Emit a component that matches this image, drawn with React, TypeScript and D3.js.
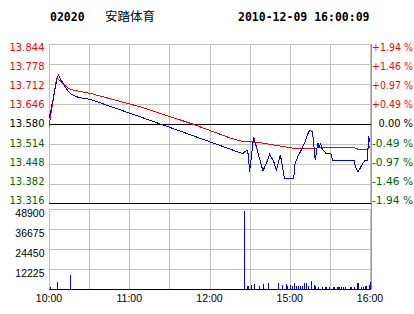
import React from "react";
import * as d3 from "d3";

const priceTicks = [13.844, 13.778, 13.712, 13.646, 13.58, 13.514, 13.448, 13.382, 13.316];
const pctTicks = ["+1.94", "+1.46", "+0.97", "+0.49", "0.00", "-0.49", "-0.97", "-1.46", "-1.94"];
const volTicks = [48900, 36675, 24450, 12225];
const timeTicks = ["10:00", "11:00", "12:00", "15:00", "16:00"];
const gridTimes = ["10:00", "10:30", "11:00", "11:30", "12:00", "12:30", "15:00", "15:30", "16:00"];

const priceTimes = [
  "10:00", "10:01", "10:02", "10:03", "10:04", "10:05", "10:06", "10:07", "10:08", "10:09",
  "10:10", "10:11", "10:12", "10:13", "10:14", "10:15", "10:17", "10:20", "10:22", "10:31",
  "11:08", "11:46", "12:23", "12:25", "12:28", "12:29", "14:30", "14:33", "14:34", "14:37",
  "14:40", "14:43", "14:45", "14:48", "14:50", "14:53", "14:56", "15:03", "15:04", "15:06",
  "15:08", "15:11", "15:13", "15:15", "15:17", "15:18", "15:19", "15:20", "15:21", "15:22",
  "15:23", "15:24", "15:27", "15:31", "15:32", "15:48", "15:49", "15:51", "15:54", "15:56",
  "15:58", "15:59", "16:00",
];
const priceValues = [
  13.600, 13.615, 13.640, 13.660, 13.685, 13.705, 13.728, 13.742, 13.735, 13.725,
  13.718, 13.710, 13.703, 13.697, 13.690, 13.685, 13.677, 13.671, 13.668, 13.661,
  13.604, 13.544, 13.485, 13.483, 13.494, 13.480, 13.422, 13.538, 13.522, 13.472,
  13.425, 13.456, 13.480, 13.456, 13.428, 13.478, 13.401, 13.401, 13.450, 13.472,
  13.489, 13.516, 13.543, 13.560, 13.554, 13.511, 13.461, 13.489, 13.518, 13.500,
  13.518, 13.500, 13.483, 13.481, 13.461, 13.461, 13.439, 13.421, 13.445, 13.459,
  13.459, 13.540, 13.520,
];

const avgTimes = [
  "10:00", "10:01", "10:02", "10:03", "10:04", "10:05", "10:06", "10:07", "10:09", "10:11",
  "10:13", "10:16", "10:31", "11:08", "11:46", "12:16", "12:25", "14:35", "14:41", "14:53",
  "15:03", "15:48", "15:51", "15:58", "16:00",
];
const avgValues = [
  13.571, 13.600, 13.630, 13.655, 13.685, 13.715, 13.731, 13.728, 13.720, 13.712,
  13.703, 13.694, 13.681, 13.637, 13.582, 13.533, 13.522, 13.520, 13.516, 13.507,
  13.500, 13.502, 13.497, 13.497, 13.505,
];

const volTimes = [
  "10:01", "10:06", "10:16", "12:26", "12:28", "12:29", "14:31", "14:33", "14:37", "14:40",
  "14:44", "14:51", "14:54", "14:57", "14:58", "15:00", "15:02", "15:03", "15:05", "15:06",
  "15:08", "15:09", "15:11", "15:12", "15:14", "15:16", "15:18", "15:19", "15:21", "15:24",
  "15:26", "15:27", "15:29", "15:32", "15:33", "15:35", "15:36", "15:37", "15:38", "15:40",
  "15:41", "15:45", "15:46", "15:48", "15:50", "15:51", "15:53", "15:55", "15:56", "15:57",
  "15:59", "16:00",
];
const volValues = [
  1200, 4100, 8700, 47400, 1600, 1600, 2450, 2850, 2000, 3250,
  3850, 3850, 2650, 3250, 1600, 2650, 1600, 3850, 1600, 2000,
  1600, 1600, 3850, 3850, 1600, 5100, 2450, 1600, 1400, 1400,
  1400, 1400, 1400, 1400, 1400, 1400, 1400, 1400, 1400, 1400,
  1400, 1400, 1400, 1400, 3450, 3850, 1400, 1400, 2000, 2000,
  2650, 4450,
];

const RED = "#ff0000";
const GREEN = "#006400";
const BLUE = "#0000ff";
const GRID = "#c0c0c0";

function tradeMin(s: string): number {
  const [h, m] = s.split(":").map(Number);
  const c = h * 60 + m;
  if (c <= 12 * 60 + 30) return c - 600;
  return 150 + c - (14 * 60 + 30);
}

export default function App() {
  const L = 49, R = 370;
  const x = d3.scaleLinear().domain([0, 240]).range([L, R]);
  const y = d3.scaleLinear().domain([13.316, 13.844]).range([204, 44]);
  const yLab = d3.scaleLinear().domain([13.316, 13.844]).range([200.5, 47]);
  const yv = d3.scaleLinear().domain([0, 48900]).range([289, 209]);

  const line = d3
    .line<[string, number]>()
    .x((d) => x(tradeMin(d[0])))
    .y((d) => y(d[1]));

  const pricePts: [string, number][] = priceTimes.map((t, i) => [t, priceValues[i]]);
  const avgPts: [string, number][] = avgTimes.map((t, i) => [t, avgValues[i]]);

  const colorFor = (i: number) => (i < 4 ? RED : i === 4 ? "#000" : GREEN);
  const px = (v: number) => Math.round(v) + 0.5;

  return (
    <svg
      width={414}
      height={314}
      style={{ position: "absolute", left: 0, top: 0, background: "#fff" }}
    >
      <rect x={0} y={0} width={414} height={314} fill="#fff" />
      {/* header */}
      <text x={50} y={21} fontFamily="DejaVu Sans Mono" fontWeight="bold" fontSize={11.5} fill="#000">
        02020
      </text>
      <text x={105} y={21} fontFamily="Noto Sans CJK SC" fontSize={12.5} fill="#000">
        安踏体育
      </text>
      <text x={238} y={21} fontFamily="DejaVu Sans Mono" fontWeight="bold" fontSize={11.5} fill="#000">
        2010-12-09 16:00:09
      </text>

      {/* main grid */}
      <g shapeRendering="crispEdges">
        {priceTicks.map((p, i) =>
          i === 4 || i === 8 ? null : (
            <line key={"h" + i} x1={L} x2={R + 1} y1={px(y(p))} y2={px(y(p))} stroke={GRID} />
          )
        )}
        {gridTimes.map((t, i) => (
          <line key={"v" + i} x1={px(x(tradeMin(t)))} x2={px(x(tradeMin(t)))} y1={44} y2={204} stroke={GRID} />
        ))}
        {volTicks.map((v, i) => (
          <line key={"vh" + i} x1={L} x2={R + 1} y1={px(yv(v))} y2={px(yv(v))} stroke={GRID} />
        ))}
        {gridTimes.map((t, i) => (
          <line key={"vv" + i} x1={px(x(tradeMin(t)))} x2={px(x(tradeMin(t)))} y1={209} y2={289} stroke={GRID} />
        ))}
        <line x1={px(R + 1)} x2={px(R + 1)} y1={44} y2={289} stroke="#999" />
        <line x1={L} x2={R + 1} y1={px(y(13.58))} y2={px(y(13.58))} stroke="#000" />
        <line x1={L} x2={R + 1} y1={px(y(13.316)) - 1} y2={px(y(13.316)) - 1} stroke="#000" />
        <line x1={L} x2={R + 1} y1={px(yv(0))} y2={px(yv(0))} stroke="#000" />
      </g>

      {/* price labels */}
      {priceTicks.map((p, i) => (
        <text
          key={"pl" + i}
          x={44.5}
          y={yLab(p) + 3.7}
          textAnchor="end"
          fontFamily="DejaVu Sans"
          fontSize={10}
          fill={colorFor(i)}
        >
          {p.toFixed(3)}
        </text>
      ))}
      {pctTicks.map((s, i) => {
        const hasSign = s[0] === "+" || s[0] === "-";
        const x0 = hasSign ? 372 : 378.5;
        return (
          <text
            key={"pr" + i}
            x={x0}
            y={yLab(priceTicks[i]) + 3.7}
            fontFamily="DejaVu Sans"
            fontSize={10}
            fill={colorFor(i)}
            textLength={413 - x0}
            lengthAdjust="spacingAndGlyphs"
          >
            {s + " %"}
          </text>
        );
      })}

      {/* volume labels */}
      {volTicks.map((v, i) => (
        <text
          key={"vl" + i}
          x={44.5}
          y={yv(v) + 8}
          textAnchor="end"
          fontFamily="Liberation Sans"
          fontSize={10.5}
          fill="#000"
        >
          {v}
        </text>
      ))}

      {/* time labels */}
      {timeTicks.map((t, i) => (
        <text
          key={"tl" + i}
          x={x(tradeMin(t))}
          y={302}
          textAnchor="middle"
          fontFamily="Liberation Sans"
          fontSize={10.5}
          fill="#000"
        >
          {t}
        </text>
      ))}

      {/* lines */}
      <path d={line(avgPts) || ""} fill="none" stroke={RED} strokeWidth={1} shapeRendering="crispEdges" />
      <path d={line(pricePts) || ""} fill="none" stroke={BLUE} strokeWidth={1} shapeRendering="crispEdges" />

      {/* volume bars */}
      <g shapeRendering="crispEdges">
        {volTimes.map((t, i) => (
          <line
            key={"vb" + i}
            x1={px(x(tradeMin(t)))}
            x2={px(x(tradeMin(t)))}
            y1={yv(volValues[i])}
            y2={yv(0)}
            stroke={BLUE}
            strokeWidth={1}
          />
        ))}
      </g>
    </svg>
  );
}
